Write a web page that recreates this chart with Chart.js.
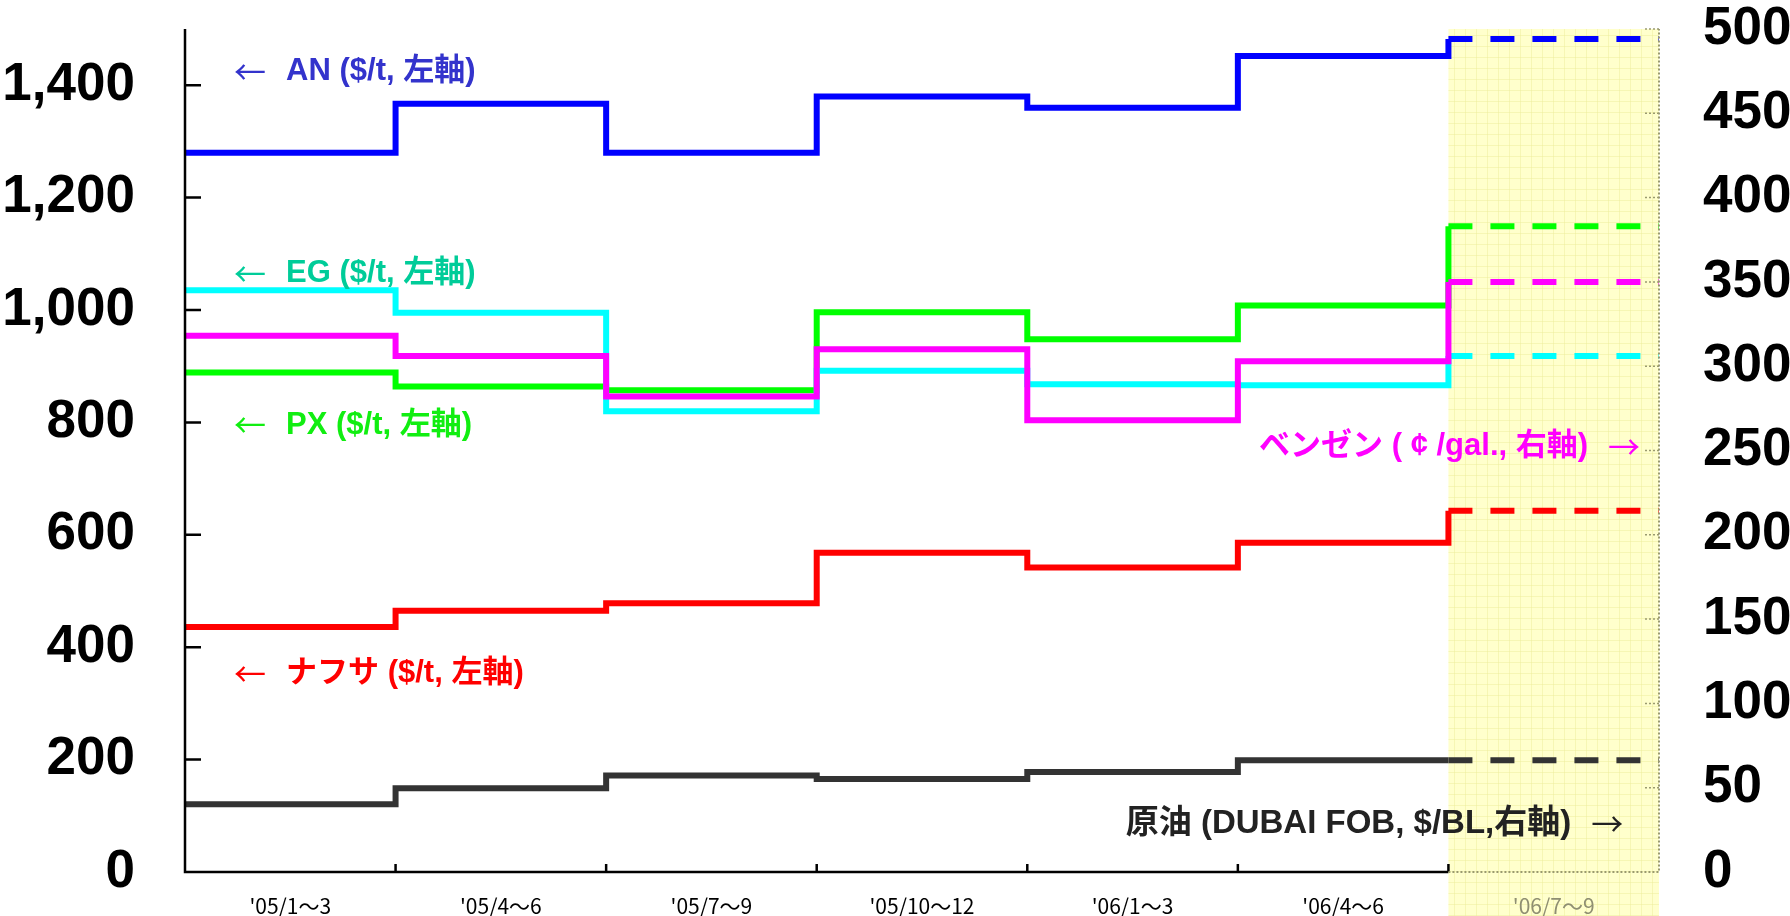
<!DOCTYPE html>
<html>
<head>
<meta charset="utf-8">
<script src="https://cdn.jsdelivr.net/npm/chart.js@4.4.1/dist/chart.umd.min.js"></script>
<style>
  html, body { margin: 0; padding: 0; background: #fff; }
  #wrap { width: 1790px; height: 916px; }
</style>
</head>
<body>
<div id="wrap"><canvas id="chart"></canvas></div>
<script>
// quarters, last one is the forecast band
const quarters = ["'05/1～3", "'05/4～6", "'05/7～9", "'05/10～12", "'06/1～3", "'06/4～6", "'06/7～9"];
const forecastFrom = 6;

// left axis ($/t)
const anPrice      = [1280, 1367, 1280, 1380, 1360, 1452, 1482];
const egPrice      = [1035, 995, 820, 892, 868, 866, 918];
const pxPrice      = [889, 864, 857, 996, 948, 1008, 1149];
const naphthaPrice = [436, 465, 478, 568, 542, 586, 643];

// right axis
const benzenePrice = [318, 306, 282, 310, 268, 303, 350];   // cent/gal
const crudePrice   = [40.2, 49.6, 57.3, 55.2, 59.3, 66.3, 66.3]; // $/BL

const leftTicks  = [0, 200, 400, 600, 800, 1000, 1200, 1400];
const rightTicks = [0, 50, 100, 150, 200, 250, 300, 350, 400, 450, 500];

const numFont = "'Liberation Sans', Arial, sans-serif";
const arrowFont = "32px 'Noto Sans CJK JP', sans-serif";

// step line: hold each quarter's value across its whole band
const toSteps = vals => vals.map((v, i) => ({x: i, y: v})).concat({x: vals.length, y: vals[vals.length - 1]});

const stepSet = (label, vals, color, axis) => ({
    label: label,
    data: toSteps(vals),
    xAxisID: 'xl',
    yAxisID: axis,
    borderColor: color,
    borderWidth: 6,
    pointRadius: 0,
    stepped: 'before',
    fill: false,
    segment: {
        borderDash: ctx => ctx.p0DataIndex >= forecastFrom ? [24, 18] : undefined
    }
});

// text labels placed in data units (arrow drawn separately)
const notes = [
    {text: 'AN ($/t, 左軸)',            color: '#3333cc', x: 0.233, y: 1424, arrow: 'left',  size: 31},
    {text: 'EG ($/t, 左軸)',            color: '#00cc99', x: 0.233, y: 1065, arrow: 'left',  size: 31},
    {text: 'PX ($/t, 左軸)',            color: '#11ee11', x: 0.233, y: 795,  arrow: 'left',  size: 31},
    {text: 'ナフサ ($/t, 左軸)',         color: '#ff0000', x: 0.233, y: 353,  arrow: 'left',  size: 31},
    {text: 'ベンゼン ( ¢ /gal., 右軸)',   color: '#ff00ff', x: 6.91,  y: 757,  arrow: 'right', size: 31},
    {text: '原油 (DUBAI FOB, $/BL,右軸)', color: '#222222', x: 6.83,  y: 85,   arrow: 'right', size: 33}
];

const decor = {
    id: 'decor',
    beforeDraw(chart) {
        const {ctx, chartArea, scales} = chart;
        const xl = scales.xl;
        ctx.save();
        ctx.fillStyle = '#ffffff';
        ctx.fillRect(0, 0, chart.width, chart.height);
        // forecast band with faint grid
        const x0 = xl.getPixelForValue(forecastFrom), x1 = xl.getPixelForValue(quarters.length);
        const top = chartArea.top, bottom = chart.height;
        ctx.fillStyle = '#ffffcc';
        ctx.fillRect(x0, top, x1 - x0, bottom - top);
        ctx.strokeStyle = 'rgba(235,235,150,0.45)';
        ctx.lineWidth = 1;
        ctx.beginPath();
        for (let x = x0 + 6; x < x1; x += 11) { ctx.moveTo(Math.round(x) + 0.5, top); ctx.lineTo(Math.round(x) + 0.5, bottom); }
        for (let y = top + 6; y < bottom; y += 11) { ctx.moveTo(x0, Math.round(y) + 0.5); ctx.lineTo(x1, Math.round(y) + 0.5); }
        ctx.stroke();
        ctx.restore();
    },
    afterDatasetsDraw(chart) {
        const {ctx, chartArea, scales} = chart;
        const xl = scales.xl, yl = scales.y, yr = scales.y2;
        const xb = xl.getPixelForValue(forecastFrom), xe = xl.getPixelForValue(quarters.length);
        ctx.save();
        // left axis + inward ticks
        ctx.strokeStyle = '#000';
        ctx.lineWidth = 2.5;
        ctx.beginPath();
        ctx.moveTo(chartArea.left, chartArea.top);
        ctx.lineTo(chartArea.left, chartArea.bottom);
        ctx.lineTo(xb, chartArea.bottom);
        leftTicks.forEach(v => {
            if (v === 0) return;
            const y = yl.getPixelForValue(v);
            ctx.moveTo(chartArea.left, y);
            ctx.lineTo(chartArea.left + 16, y);
        });
        for (let i = 1; i <= forecastFrom; i++) {
            const x = xl.getPixelForValue(i);
            ctx.moveTo(x, chartArea.bottom);
            ctx.lineTo(x, chartArea.bottom - 8);
        }
        ctx.stroke();
        // forecast band edges, dotted grey
        ctx.strokeStyle = '#9a9a70';
        ctx.lineWidth = 2;
        ctx.setLineDash([2, 2]);
        ctx.beginPath();
        ctx.moveTo(xb, chartArea.bottom);
        ctx.lineTo(xe, chartArea.bottom);
        ctx.lineTo(xe, chartArea.top);
        ctx.stroke();
        ctx.lineWidth = 1.5;
        ctx.beginPath();
        rightTicks.forEach(v => {
            if (v === 0) return;
            const y = yr.getPixelForValue(v);
            ctx.moveTo(xe, y);
            ctx.lineTo(xe - 15, y);
        });
        ctx.stroke();
        ctx.setLineDash([]);
        // notes with arrows
        ctx.textBaseline = 'middle';
        ctx.textAlign = 'left';
        notes.forEach(n => {
            const px = xl.getPixelForValue(n.x), py = yl.getPixelForValue(n.y);
            const noteFont = 'bold ' + n.size + "px 'Liberation Sans', 'Noto Sans CJK JP', sans-serif";
            ctx.fillStyle = n.color;
            ctx.font = arrowFont;
            const aw = ctx.measureText('←').width;
            ctx.font = noteFont;
            const tw = ctx.measureText(n.text).width;
            const gap = 20;
            let ax, tx;
            if (n.arrow === 'left') { ax = px; tx = px + aw + gap; }
            else { ax = px - aw; tx = ax - gap - tw; }
            ctx.fillText(n.text, tx, py);
            ctx.font = arrowFont;
            ctx.fillText(n.arrow === 'left' ? '←' : '→', ax, py);
        });
        ctx.restore();
    }
};

new Chart(document.getElementById('chart'), {
    type: 'line',
    data: {
        labels: quarters,
        datasets: [
            stepSet('AN', anPrice, '#0000ff', 'y'),
            stepSet('ベンゼン', benzenePrice, '#ff00ff', 'y2'),
            stepSet('EG', egPrice, '#00ffff', 'y'),
            stepSet('PX', pxPrice, '#00ff00', 'y'),
            stepSet('ナフサ', naphthaPrice, '#ff0000', 'y'),
            stepSet('原油', crudePrice, '#333333', 'y2')
        ]
    },
    options: {
        responsive: true,
        maintainAspectRatio: false,
        animation: false,
        layout: {padding: {top: 29, left: 0, right: 0, bottom: 0}},
        plugins: {legend: {display: false}, tooltip: {enabled: false}},
        scales: {
            x: {
                type: 'category',
                position: 'bottom',
                offset: true,
                grid: {display: false},
                border: {display: false},
                ticks: {
                    padding: 13,
                    maxRotation: 0,
                    autoSkip: false,
                    font: {family: "'Noto Sans CJK JP', sans-serif", size: 21},
                    color: ctx => ctx.index === forecastFrom ? '#8f8f72' : '#000'
                },
                afterFit: s => { s.height = 44; s.paddingLeft = 0; s.paddingRight = 0; }
            },
            xl: {
                type: 'linear',
                display: false,
                min: 0,
                max: quarters.length
            },
            y: {
                position: 'left',
                min: 0,
                max: 1500,
                grid: {display: false},
                border: {display: false},
                afterBuildTicks: s => { s.ticks = leftTicks.map(v => ({value: v})); },
                ticks: {
                    padding: 42,
                    color: '#000',
                    font: {family: numFont, size: 53, weight: 'bold'},
                    callback: v => v.toLocaleString('en-US')
                },
                afterFit: s => { s.width = 185; s.paddingTop = 0; s.paddingBottom = 0; }
            },
            y2: {
                position: 'right',
                min: 0,
                max: 500,
                grid: {display: false},
                border: {display: false},
                afterBuildTicks: s => { s.ticks = rightTicks.map(v => ({value: v})); },
                ticks: {
                    padding: 36,
                    color: '#000',
                    font: {family: numFont, size: 53, weight: 'bold'}
                },
                afterFit: s => { s.width = 131; s.paddingTop = 0; s.paddingBottom = 0; }
            }
        }
    },
    plugins: [decor]
});
</script>
</body>
</html>
